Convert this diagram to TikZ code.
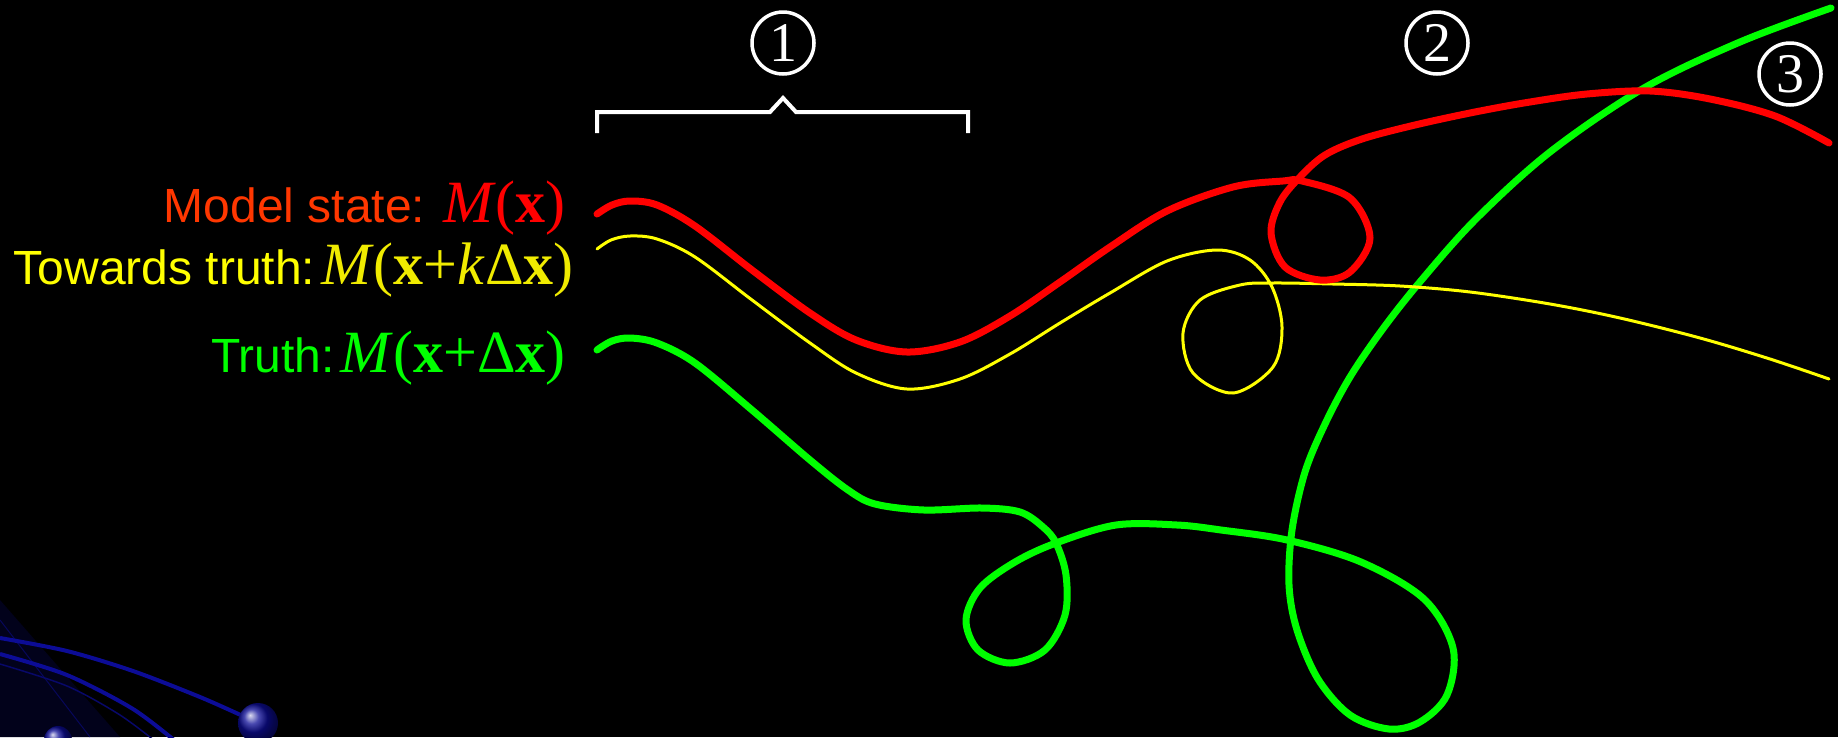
\documentclass[tikz,border=0pt]{standalone}
\usepackage{fontspec}
\setmainfont{Liberation Serif}
\newfontfamily\labsans{Liberation Sans}
\definecolor{labelred}{RGB}{255,55,0}
\definecolor{curvered}{RGB}{255,0,0}
\definecolor{curveyellow}{RGB}{255,255,0}
\definecolor{mathyellow}{RGB}{240,235,0}
\definecolor{curvegreen}{RGB}{0,255,0}
\definecolor{decoblue}{RGB}{12,12,150}
\tikzset{
  redcurve/.style={curvered, line width=7pt, line cap=round, line join=round},
  yellowcurve/.style={curveyellow, line width=3pt, line cap=round, line join=round},
  greencurve/.style={curvegreen, line width=7pt, line cap=round, line join=round},
  labeltext/.style={anchor=base east, inner sep=0pt, font=\labsans\fontsize{48}{50}\selectfont},
  circnum/.style={circle, draw=white, line width=3.5pt, minimum size=62pt, inner sep=0pt, text=white, font=\rmfamily\fontsize{56}{58}\selectfont},
  bracketline/.style={white, line width=4pt},
  decoline/.style={decoblue, line width=4pt}
}
\newcommand{\mth}[1]{{\rmfamily\fontsize{60}{62}\selectfont #1}}
\begin{document}
\begin{tikzpicture}[x=1pt,y=-1pt]
\fill[black] (0,0) rectangle (1838,737);
\useasboundingbox (0,0) rectangle (1838,737);

% bottom-left decoration
\begin{scope}
\clip (0,0) rectangle (1838,737);
\fill[decoblue!18!black] (0,600) -- (0,737) -- (120,737) -- cycle;
\draw[decoblue!60!black, line width=1pt] (0,620) -- (90,737);
\draw[decoline] plot[smooth] coordinates {(0,638) (67,651) (133,671) (200,697) (245,717)};
\draw[decoline] plot[smooth] coordinates {(0,654) (67,675) (133,709) (180,745)};
\draw[decoblue!70!black, line width=1.5pt] plot[smooth] coordinates {(0,664) (67,686) (120,715) (160,745)};
\shade[ball color=decoblue] (258,723) circle (20);
\shade[ball color=decoblue] (58,740) circle (14);
\end{scope}

% bracket and circled numbers
\draw[bracketline] (597,133) -- (597,112) -- (770,112) -- (783,98) -- (796,112) -- (968,112) -- (968,133);
\node[circnum] (c1) at (783,43) {1};
\node[circnum] (c2) at (1437,43) {2};
\node[circnum] (c3) at (1790,74) {3};

% labels
\node[labeltext, text=labelred] (lbl1) at (566,222) {Model state: \textcolor{curvered}{\mth{\textit{M}(\textbf{x})}}};
\node[labeltext, text=curveyellow] (lbl2) at (574,284) {Towards truth:\hspace{6pt}\textcolor{mathyellow}{\mth{\textit{M}(\textbf{x}+\textit{k}Δ\textbf{x})}}};
\node[labeltext, text=curvegreen] (lbl3) at (566,372) {Truth:\hspace{6pt}\mth{\textit{M}(\textbf{x}+Δ\textbf{x})}};

% trajectories
\draw[greencurve] plot[smooth, tension=0.55] coordinates {
(597,350) (612,341) (630,338) (657,343) (695,363) (752,410) (810,460) (848,490) (875,504) (924,510) (982,508) (1020,512) (1043,527) (1056,543) (1066,575) (1065,615) (1045,650) (1010,663) (978,650) (966,620) (980,588) (1015,562) (1056,543) (1116,525) (1177,525) (1221,530) (1287,540) (1361,562) (1424,599) (1453,648) (1447,695) (1420,722) (1389,729) (1350,715) (1318,679) (1297,630) (1289,585) (1292,530) (1305,472) (1325,424) (1350,377) (1382,330) (1419,283) (1475,220) (1550,152) (1644,88) (1740,42) (1831,8)};

\draw[yellowcurve] plot[smooth, tension=0.55] coordinates {
(597,249) (611,240) (630,236) (657,239) (695,257) (752,300) (810,343) (856,373) (907,389) (960,379) (1010,354) (1060,323) (1110,293) (1167,261) (1217,250) (1250,260) (1272,287) (1282,327) (1273,367) (1233,393) (1193,373) (1183,333) (1200,300) (1240,285) (1273,283) (1333,284) (1400,286) (1470,292) (1550,304) (1620,318) (1700,338) (1770,359) (1829,379)};

\draw[redcurve] plot[smooth, tension=0.55] coordinates {
(597,214) (612,205) (630,201) (657,205) (695,226) (752,270) (810,313) (856,340) (907,352) (960,342) (1010,316) (1060,282) (1110,247) (1167,211) (1233,187) (1283,181) (1302,181) (1350,198) (1370,238) (1350,272) (1320,280) (1285,267) (1271,233) (1280,202) (1299,178) (1325,155) (1362,139) (1415,125) (1475,112) (1530,102) (1587,94) (1650,91) (1710,99) (1775,116) (1829,143)};
\end{tikzpicture}
\end{document}
